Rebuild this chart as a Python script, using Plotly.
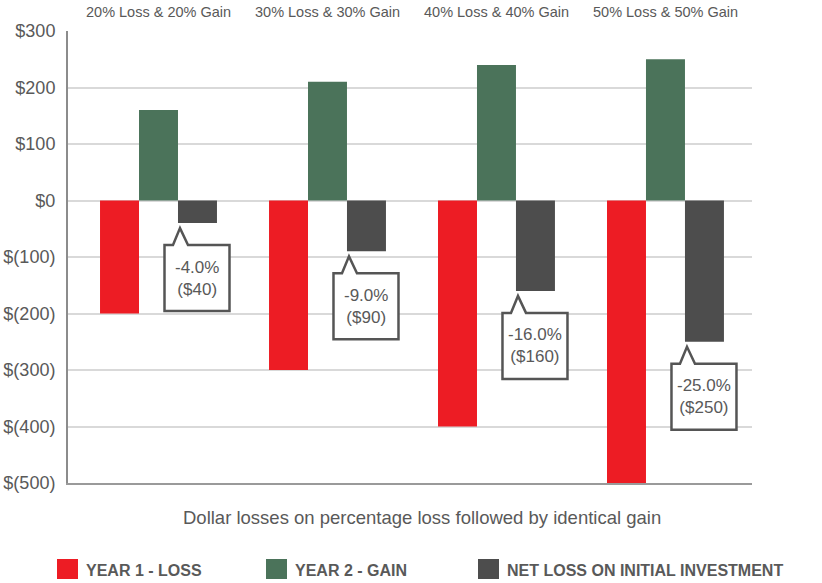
import plotly.graph_objects as go

# ---- data -------------------------------------------------------------
scenarios = ["20% Loss & 20% Gain", "30% Loss & 30% Gain",
             "40% Loss & 40% Gain", "50% Loss & 50% Gain"]
initial_investment = 1000
year1_loss = [-200, -300, -400, -500]
year2_gain = [160, 210, 240, 250]
net_loss = [-40, -90, -160, -250]

series_names = ["YEAR 1 - LOSS", "YEAR 2 - GAIN", "NET LOSS ON INITIAL INVESTMENT"]
series_colors = ["#ed1c24", "#4b735a", "#4d4d4d"]

y_ticks = [300, 200, 100, 0, -100, -200, -300, -400, -500]
y_tick_text = ["$300", "$200", "$100", "$0", "$(100)", "$(200)",
               "$(300)", "$(400)", "$(500)"]

subtitle = "Dollar losses on percentage loss followed by identical gain"

# ---- geometry helpers ---------------------------------------------------
W, H = 822, 583
M_L, M_R, M_T, M_B = 68, 70, 31, 100
PW, PH = W - M_L - M_R, H - M_T - M_B

def px_x(px):
    return (px - M_L) / PW

def px_y(py):
    return (H - M_B - py) / PH

FONT = "Liberation Sans, Arial, sans-serif"
TEXT_COLOR = "#595959"

x_idx = list(range(len(scenarios)))

fig = go.Figure()
for name, color, vals in zip(series_names, series_colors,
                             [year1_loss, year2_gain, net_loss]):
    fig.add_trace(go.Bar(x=x_idx, y=vals, name=name, marker_color=color,
                         marker_line_width=0, showlegend=False,
                         hoverinfo="skip"))

# speech-bubble callouts under the net-loss bars (pixel offsets from the bar end)
bubble = ("M 6,-22 L 14.5,-22 L 21.5,-5 L 29.5,-22 L 71,-22 "
          "L 71,-88 L 6,-88 Z")
for i, v in enumerate(net_loss):
    fig.add_shape(type="path", xref="x", yref="y",
                  xsizemode="pixel", ysizemode="pixel",
                  xanchor=i, yanchor=v, path=bubble,
                  line=dict(color="#555555", width=2.5),
                  fillcolor="white", layer="above")
    pct = v / initial_investment * 100
    fig.add_annotation(x=i, y=v, xref="x", yref="y",
                       xshift=38.5, yshift=-55, showarrow=False,
                       text=f"{pct:.1f}%<br>(${abs(v)})",
                       font=dict(family=FONT, size=17, color=TEXT_COLOR))

# scenario labels above the plot
for i, s in enumerate(scenarios):
    fig.add_annotation(x=i, y=1, xref="x", yref="paper", yshift=19,
                       showarrow=False, text=s, yanchor="middle",
                       font=dict(family=FONT, size=14.5, color=TEXT_COLOR))

# subtitle under the plot
fig.add_annotation(x=px_x(422), y=0, xref="paper", yref="paper", yshift=-34,
                   showarrow=False, text=subtitle, yanchor="middle",
                   font=dict(family=FONT, size=18.5, color=TEXT_COLOR))

# legend built from swatches and labels
swatch_left = [57, 266, 478]
for name, color, left in zip(series_names, series_colors, swatch_left):
    fig.add_shape(type="rect", xref="paper", yref="paper",
                  x0=px_x(left), x1=px_x(left + 21),
                  y0=px_y(579), y1=px_y(559),
                  fillcolor=color, line_width=0)
    fig.add_annotation(x=px_x(left + 27), y=px_y(570), xref="paper",
                       yref="paper", showarrow=False, xanchor="left",
                       yanchor="middle", text=f"<b>{name}</b>",
                       font=dict(family=FONT, size=16, color=TEXT_COLOR))

axis_font = dict(family=FONT, size=18, color=TEXT_COLOR)
fig.update_layout(
    width=W, height=H,
    margin=dict(l=M_L, r=M_R, t=M_T, b=M_B, pad=0),
    paper_bgcolor="white", plot_bgcolor="white",
    barmode="group", bargap=0.308, bargroupgap=0,
    showlegend=False,
    xaxis=dict(range=[-0.5355, 3.512], showgrid=False, zeroline=False,
               showticklabels=False, ticks="", showline=True,
               linecolor="#9a9a9a", linewidth=2, fixedrange=True,
               automargin=False),
    yaxis=dict(range=[-500, 300], tickvals=y_ticks, ticktext=y_tick_text,
               showgrid=True, gridcolor="#d9d9d9", gridwidth=2,
               zeroline=False, showline=True, linecolor="#8c8c8c",
               linewidth=2, ticks="", tickfont=axis_font,
               ticklabelstandoff=7, fixedrange=True, automargin=False),
    yaxis2=dict(range=[-500, 300], tickvals=y_ticks, ticktext=y_tick_text,
                overlaying="y", side="right", showgrid=False,
                zeroline=False, showline=False, ticks="",
                tickfont=axis_font, ticklabelstandoff=10, fixedrange=True,
                automargin=False),
)

fig.write_html("out.html")
